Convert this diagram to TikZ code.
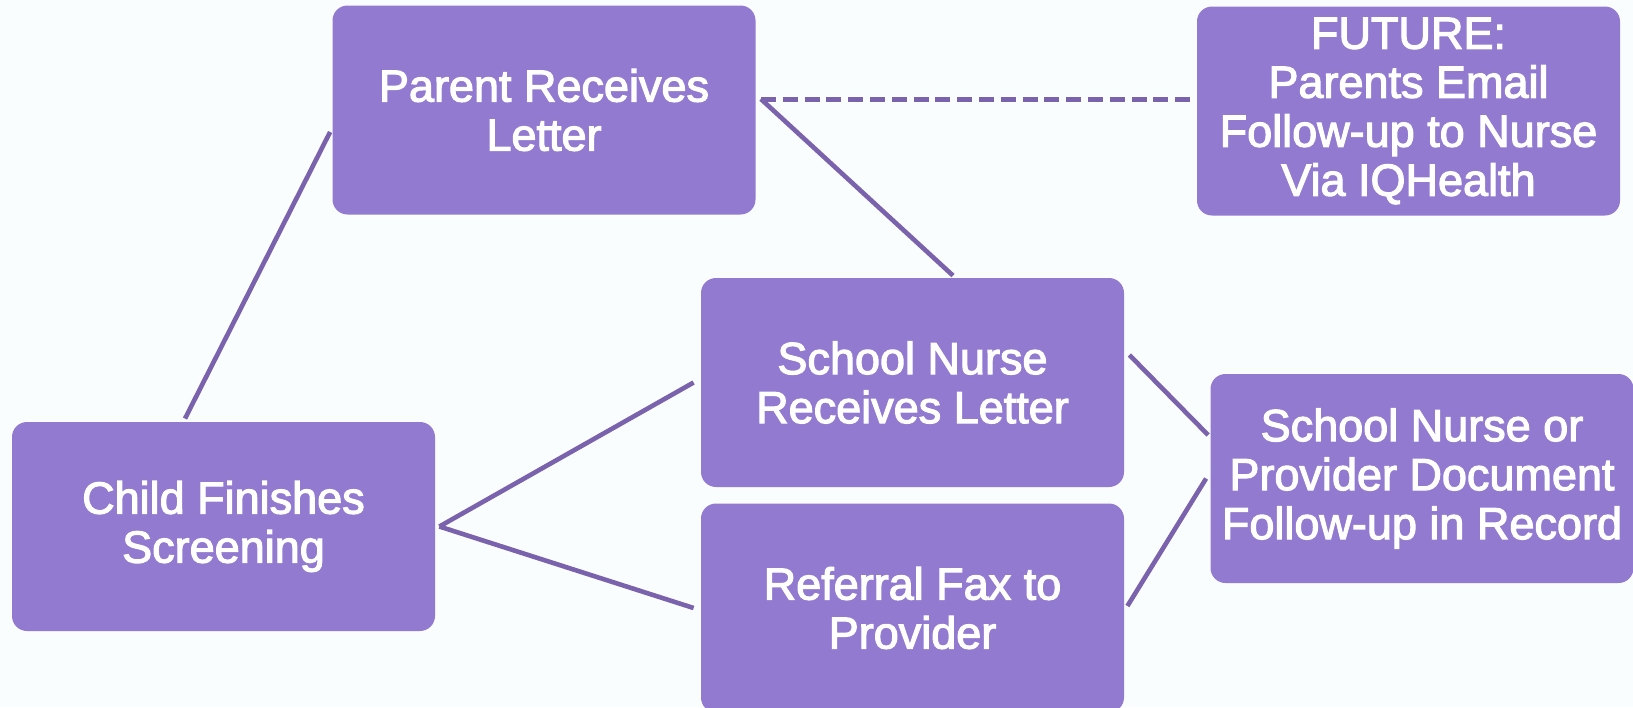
\documentclass[tikz,border=0pt]{standalone}
\usepackage{fontspec}
\setmainfont{Liberation Sans}
\newfontfamily\boxfont{Liberation Sans}[BoldFont={Liberation Sans}, BoldFeatures={FakeBold=2.5}]
\usetikzlibrary{calc}
\definecolor{boxfill}{RGB}{146,122,209}
\definecolor{linecol}{RGB}{122,98,172}
\definecolor{bgcol}{RGB}{250,253,254}
\tikzset{
  stepbox/.style={rectangle, rounded corners=7.5pt, fill=boxfill, draw=none,
    minimum width=211.5pt, minimum height=104.5pt, inner sep=0pt,
    align=center, text=white, font=\boxfont\bfseries\fontsize{22.5pt}{24.5pt}\selectfont},
  conn/.style={draw=linecol, line width=2.3pt},
  dashconn/.style={draw=linecol, line width=2.5pt, dash pattern=on 7.5pt off 3.4pt}
}
\begin{document}
\begin{tikzpicture}[x=0.5pt,y=-0.5pt]
\fill[bgcol] (0,0) rectangle (1633,707);
\useasboundingbox (0,0) rectangle (1633,707);
\begin{scope}
\clip (0,0) rectangle (1633,707);
\node[stepbox] (par) at (544,110) {Parent Receives\\Letter};
\node[stepbox] (fut) at (1408.5,111) {FUTURE:\\Parents Email\\Follow-up to Nurse\\Via IQHealth};
\node[stepbox] (snl) at (912.5,382.5) {School Nurse\\Receives Letter};
\node[stepbox] (ref) at (912.5,608) {Referral Fax to\\Provider};
\node[stepbox] (child) at (223.5,526.5) {Child Finishes\\Screening};
\node[stepbox] (prov) at (1422,478.5) {School Nurse or\\Provider Document\\Follow-up in Record};
\end{scope}
\draw[conn] ($(child.north)+(-38.5,-3)$) -- ($(par.west)+(-2,22)$);
\draw[conn] ($(par.east)+(5,-11)$) -- ($(snl.north)+(40.5,-2)$);
\draw[dashconn] ($(par.east)+(5,-11)$) -- ($(fut.west)+(-4,-12)$);
\draw[conn] ($(child.east)+(4,0)$) -- ($(snl.west)+(-7,0)$);
\draw[conn] ($(child.east)+(4,0)$) -- ($(ref.west)+(-7,0)$);
\draw[conn] ($(snl.east)+(5,-27.5)$) -- ($(prov.west)+(-2,-43.5)$);
\draw[conn] ($(ref.east)+(3,-2)$) -- ($(prov.west)+(-4,0)$);
\end{tikzpicture}
\end{document}
